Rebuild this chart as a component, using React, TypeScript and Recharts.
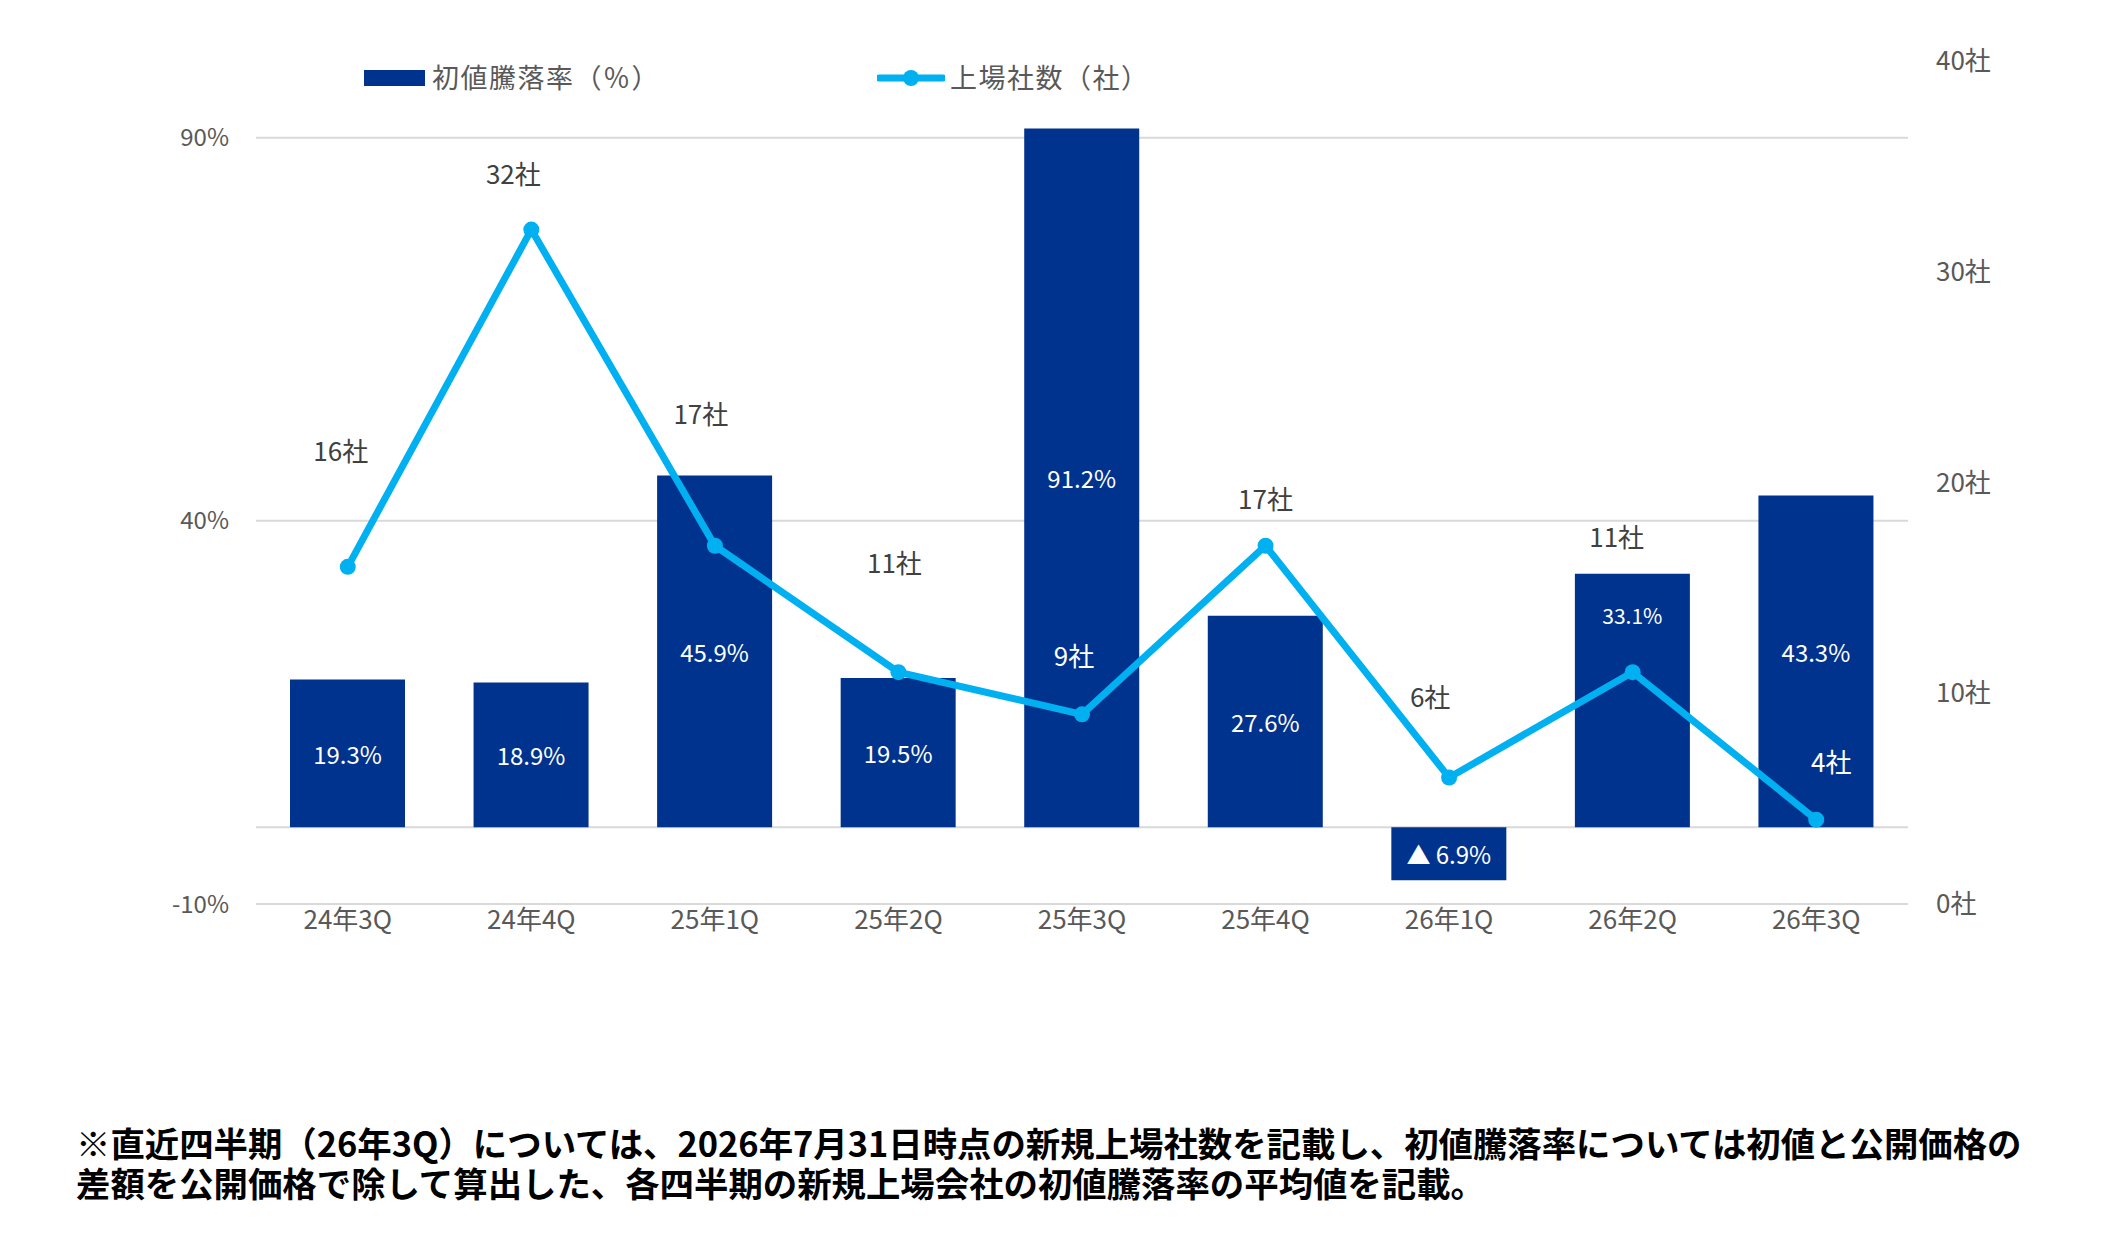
import React from "react";
import { ComposedChart, Bar, Line, XAxis, YAxis, CartesianGrid, LabelList } from "recharts";

// quarterly IPO stats
const quarters = ["24年3Q", "24年4Q", "25年1Q", "25年2Q", "25年3Q", "25年4Q", "26年1Q", "26年2Q", "26年3Q"];
const firstPriceReturn = [19.3, 18.9, 45.9, 19.5, 91.2, 27.6, -6.9, 33.1, 43.3];
const listedCount = [16, 32, 17, 11, 9, 17, 6, 11, 4];
const pctTicks = [-10, 40, 90];
const gridValues = [-10, 0, 40, 90];
const countTicks = [0, 10, 20, 30, 40];

const data = quarters.map((q, i) => ({ q, rate: firstPriceReturn[i], count: listedCount[i] }));

// label placement tweaks (px offsets from the point), picked to match the original layout
const countLabelNudge = [[-7, -117], [-18, -57], [-14, -133], [-4, -111], [-8, -60], [0, -48], [-19, -82], [-16, -137], [15, -59]];
const countLabelOnBar = [4, 8];

const BAR = "#00338D";
const LINE = "#00B0F0";
const GRID = "#D9D9D9";
const TXT = "#595959";
const FONT = "'Noto Sans CJK JP', 'Noto Sans', sans-serif";

const fmtRate = (v: number) => (v < 0 ? `▲ ${Math.abs(v).toFixed(1)}%` : `${v.toFixed(1)}%`);

const BarLabel = (props: any) => {
	const { x, y, width, height, value, index } = props;
	const cx = Number(x) + Number(width) / 2;
	// 26年2Q label sits near the bar top in the source, 26年3Q a bit above centre
	const atTop = index === 7;
	const cy = atTop ? Number(y) + 41 : Number(y) + Number(height) / 2 - (index === 8 ? 10 : 0);
	return (
		<text x={cx} y={cy} textAnchor="middle" dominantBaseline="central" fill="#fff" fontSize={atTop ? 21 : 24} fontFamily={FONT}>
			{fmtRate(Number(value))}
		</text>
	);
};

const CountLabel = (props: any) => {
	const { x, y, value, index } = props;
	const [dx, dy] = countLabelNudge[index] || [0, -40];
	return (
		<text x={Number(x) + dx} y={Number(y) + dy} textAnchor="middle" dominantBaseline="central"
			fill={countLabelOnBar.includes(index) ? "#fff" : "#404040"} fontSize={26} fontFamily={FONT}>
			{`${value}社`}
		</text>
	);
};

function LegendBar() {
	const txt: any = { position: "absolute", top: 58, lineHeight: "38px", whiteSpace: "nowrap", letterSpacing: "1.5px" };
	return (
		<div style={{ position: "absolute", left: 0, top: 0, width: 2113, height: 120, fontFamily: FONT, color: TXT, fontSize: 27 }}>
			<div style={{ position: "absolute", left: 364, top: 70, width: 61, height: 16, background: BAR }} />
			<div style={{ ...txt, left: 432 }}>初値騰落率（％）</div>
			<svg style={{ position: "absolute", left: 877, top: 66 }} width={68} height={24}>
				<line x1={2} y1={12} x2={66} y2={12} stroke={LINE} strokeWidth={7} strokeLinecap="round" />
				<circle cx={34} cy={12} r={8} fill={LINE} />
			</svg>
			<div style={{ ...txt, left: 950 }}>上場社数（社）</div>
		</div>
	);
}

export default function App() {
	return (
		<div style={{ position: "absolute", left: 0, top: 0, width: 2113, height: 1254, background: "#fff" }}>
			<LegendBar />
			<div style={{ position: "absolute", left: 0, top: 0 }}>
				<ComposedChart width={2113} height={1000} data={data} margin={{ top: 61, right: 0, left: 0, bottom: 36 }} barSize={115}>
					<CartesianGrid yAxisId="left" vertical={false} stroke={GRID} strokeWidth={2} horizontalValues={gridValues} />
					<XAxis dataKey="q" height={60} axisLine={false} tickLine={false} tickSize={0} tickMargin={7}
						tick={{ fill: TXT, fontSize: 26, fontFamily: FONT }} interval={0} />
					<YAxis yAxisId="left" width={256} domain={[-10, 100]} ticks={pctTicks} axisLine={false} tickLine={false}
						tickSize={0} tickMargin={27} tickFormatter={(v: any) => `${v}%`}
						tick={{ fill: TXT, fontSize: 24, fontFamily: FONT }} />
					<YAxis yAxisId="right" orientation="right" width={205} domain={[0, 40]} ticks={countTicks} axisLine={false}
						tickLine={false} tickSize={0} tickMargin={28} tickFormatter={(v: any) => `${v}社`}
						tick={{ fill: TXT, fontSize: 26, fontFamily: FONT }} />
					<Bar yAxisId="left" dataKey="rate" fill={BAR} isAnimationActive={false}>
						<LabelList dataKey="rate" content={BarLabel} />
					</Bar>
					<Line yAxisId="right" dataKey="count" type="linear" stroke={LINE} strokeWidth={7}
						dot={{ r: 8, fill: LINE, stroke: "none" }} activeDot={false} isAnimationActive={false}>
						<LabelList dataKey="count" content={CountLabel} />
					</Line>
				</ComposedChart>
			</div>
			<div style={{ position: "absolute", left: 76, top: 1122, fontFamily: FONT, fontWeight: 700, fontSize: 34.4, lineHeight: "40px", color: "#000", whiteSpace: "nowrap" }}>
				<div>※直近四半期（26年3Q）については、2026年7月31日時点の新規上場社数を記載し、初値騰落率については初値と公開価格の</div>
				<div>差額を公開価格で除して算出した、各四半期の新規上場会社の初値騰落率の平均値を記載。</div>
			</div>
		</div>
	);
}
